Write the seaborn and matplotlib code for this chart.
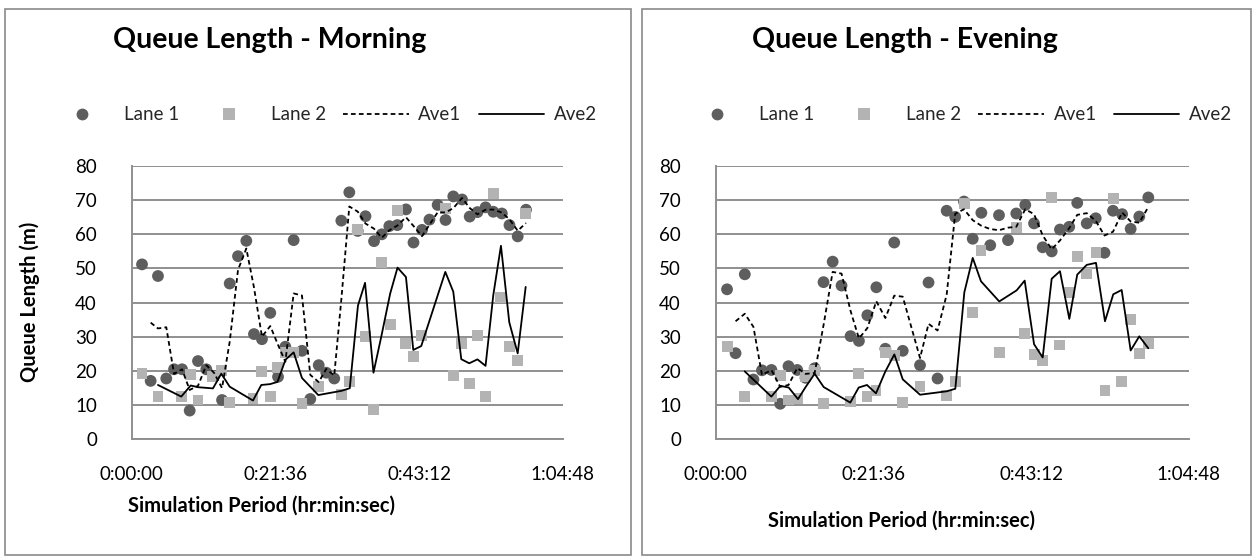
import numpy as np
import pandas as pd
import matplotlib
matplotlib.use("Agg")
import matplotlib.pyplot as plt
import seaborn as sns
from matplotlib.patches import Rectangle
from matplotlib.lines import Line2D
from matplotlib.ticker import FuncFormatter

# ---------------- data (time in seconds, queue length in m) ----------------
morning_lane1_t = [93, 171, 237, 312, 382, 454, 523, 598, 673, 742, 815, 884, 959, 1034,
                   1103, 1175, 1250, 1320, 1386, 1461, 1536, 1611, 1687, 1755, 1827, 1891,
                   1963, 2039, 2109, 2186, 2256, 2324, 2396, 2474, 2542, 2619, 2686, 2760,
                   2831, 2901, 2980, 3049, 3119, 3192, 3262, 3339, 3408, 3482, 3557]
morning_lane1_q = [51.2, 17.1, 47.8, 17.8, 20.5, 20.5, 8.4, 22.9, 20.5, 18.5, 11.5, 45.6,
                   53.6, 58.1, 30.8, 29.3, 37.0, 18.3, 27.1, 58.3, 25.9, 11.8, 21.7, 19.5,
                   17.8, 64.0, 72.3, 61.0, 65.3, 58.0, 60.0, 62.4, 62.7, 67.3, 57.6, 61.3,
                   64.3, 68.6, 64.2, 71.1, 70.2, 65.2, 66.5, 67.9, 66.6, 66.1, 62.7, 59.4, 67.2]
morning_lane2_t = [93, 237, 447, 532, 598, 733, 808, 884, 1094, 1169, 1248, 1315, 1387,
                   1461, 1536, 1683, 1894, 1967, 2041, 2105, 2181, 2253, 2332, 2398, 2474,
                   2540, 2612, 2829, 2901, 2973, 3045, 3119, 3192, 3262, 3331, 3406, 3482, 3554]
morning_lane2_q = [19.3, 12.5, 12.5, 19.0, 11.5, 18.3, 20.1, 10.7, 12.0, 19.8, 12.5, 21.1,
                   25.5, 25.4, 10.5, 15.4, 13.0, 16.9, 61.4, 30.2, 8.8, 51.8, 33.6, 66.9,
                   28.1, 24.2, 30.4, 67.6, 18.8, 28.1, 16.4, 30.4, 12.6, 71.9, 41.4, 27.1,
                   23.2, 66.0]

evening_lane1_t = [94, 164, 240, 311, 381, 459, 531, 599, 671, 739, 814, 887, 962, 1035,
                   1109, 1178, 1247, 1321, 1395, 1468, 1538, 1680, 1750, 1824, 1899, 1969,
                   2041, 2113, 2184, 2257, 2329, 2403, 2471, 2545, 2617, 2688, 2762, 2830,
                   2906, 2972, 3050, 3124, 3196, 3266, 3341, 3411, 3482, 3556]
evening_lane1_q = [43.9, 25.2, 48.3, 17.5, 20.2, 20.3, 10.4, 21.4, 20.3, 18.0, 20.8, 46.0,
                   52.0, 45.0, 30.2, 28.8, 36.3, 44.5, 26.5, 57.6, 25.9, 21.7, 45.9, 17.8,
                   66.9, 65.1, 69.6, 58.7, 66.3, 56.8, 65.6, 58.3, 66.1, 68.6, 63.2, 56.2,
                   55.0, 61.4, 62.2, 69.2, 63.2, 64.7, 54.6, 66.9, 65.9, 61.6, 65.2, 70.8]
evening_lane2_t = [94, 239, 458, 532, 601, 677, 737, 814, 888, 1107, 1176, 1244, 1318,
                   1395, 1469, 1538, 1680, 1899, 1970, 2044, 2113, 2181, 2331, 2474, 2540,
                   2617, 2688, 2762, 2830, 2907, 2972, 3050, 3126, 3200, 3268, 3337, 3411,
                   3482, 3556]
evening_lane2_q = [27.3, 12.5, 12.5, 18.8, 11.5, 12.0, 18.3, 20.1, 10.5, 11.0, 19.3, 12.5,
                   14.4, 25.3, 24.4, 10.7, 15.4, 12.7, 16.9, 69.1, 37.1, 55.4, 25.3, 61.9,
                   31.0, 24.7, 23.2, 70.8, 27.6, 42.9, 53.5, 48.6, 54.7, 14.4, 70.5, 16.9,
                   35.1, 25.2, 28.1]

x_ticks = [0, 1296, 2592, 3888]
y_ticks = [0, 10, 20, 30, 40, 50, 60, 70, 80]
titles = ["Queue Length - Morning", "Queue Length - Evening"]
legend_labels = ["Lane 1", "Lane 2", "Ave1", "Ave2"]
x_title = "Simulation Period (hr:min:sec)"
y_title = "Queue Length (m)"

# ---------------- style ----------------
sns.set_theme(style="white")
plt.rcParams['font.family'] = ['Lato', 'DejaVu Sans']

C1 = "#5e5e5e"
C2 = "#b3b3b3"
GRID = "#8f8f8f"
DASH = (0, (2.6, 1.8))

W, H = 1255, 560
fig = plt.figure(figsize=(W / 100, H / 100), dpi=100)


def rect(x0, y0, x1, y1):
    return [x0 / W, 1 - y1 / H, (x1 - x0) / W, (y1 - y0) / H]


def hms(v, pos=None):
    v = int(round(v))
    return f"{v // 3600}:{(v % 3600) // 60:02d}:{v % 60:02d}"


# panel borders
for (x0, x1) in [(5, 631), (642, 1251)]:
    fig.patches.append(Rectangle((x0 / W, 1 - 555 / H), (x1 - x0) / W, (555 - 9) / H,
                                 transform=fig.transFigure, fill=False,
                                 edgecolor="#8a8a8a", linewidth=1.2))

ax1 = fig.add_axes(rect(131.7, 166, 562.7, 439.3))
ax2 = fig.add_axes(rect(715.6, 166, 1188.7, 439.3))

# (axes, data..., title centre x, legend centre x, x-title centre x, x-title y)
panels = [
    (ax1, morning_lane1_t, morning_lane1_q, morning_lane2_t, morning_lane2_q, 270, 323, 262, 506),
    (ax2, evening_lane1_t, evening_lane1_q, evening_lane2_t, evening_lane2_q, 905, 958, 902, 521),
]

for i, (ax, t1, q1, t2, q2, tcx, lcx, xcx, xl_y) in enumerate(panels):
    d1 = pd.DataFrame({"t": t1, "q": q1})
    d2 = pd.DataFrame({"t": t2, "q": q2})
    # Excel 2-period moving-average trendlines
    d1["ave"] = d1["q"].rolling(2).mean()
    d2["ave"] = d2["q"].rolling(2).mean()

    ax.set_axisbelow(True)
    ax.yaxis.grid(True, color=GRID, linewidth=1.4)
    ax.xaxis.grid(False)

    sns.scatterplot(data=d1, x="t", y="q", ax=ax, marker="o", s=72, color=C1,
                    edgecolor="none", linewidth=0, zorder=3)
    sns.scatterplot(data=d2, x="t", y="q", ax=ax, marker="s", s=62, color=C2,
                    edgecolor="none", linewidth=0, zorder=3)
    sns.lineplot(data=d1.dropna(), x="t", y="ave", ax=ax, sort=False, estimator=None,
                 color="black", linewidth=1.3, zorder=4)
    ax.lines[-1].set_linestyle(DASH)
    sns.lineplot(data=d2.dropna(), x="t", y="ave", ax=ax, sort=False, estimator=None,
                 color="black", linewidth=1.3, zorder=4)

    ax.set_xlim(0, 3888)
    ax.set_ylim(0, 80)
    ax.set_xticks(x_ticks)
    ax.set_yticks(y_ticks)
    ax.xaxis.set_major_formatter(FuncFormatter(hms))
    ax.set_xlabel("")
    ax.set_ylabel("")
    for s in ["top", "right"]:
        ax.spines[s].set_visible(False)
    for s in ["left", "bottom"]:
        ax.spines[s].set_color(GRID)
        ax.spines[s].set_linewidth(1.4)
    ax.tick_params(axis="both", direction="out", length=6, width=1.4, color=GRID,
                   labelsize=13.5, labelcolor="black")
    ax.tick_params(axis="y", pad=19)
    ax.tick_params(axis="x", pad=13)
    if ax.get_legend() is not None:
        ax.get_legend().remove()

    fig.text(tcx / W, 1 - 40 / H, titles[i], ha="center", va="center",
             fontsize=20.5, fontweight="bold", color="black")
    fig.text(xcx / W, 1 - xl_y / H, x_title, ha="center", va="center",
             fontsize=14.5, fontweight="bold", color="black")

    handles = [
        Line2D([], [], marker="o", linestyle="none", color=C1, markersize=8.5, markeredgewidth=0),
        Line2D([], [], marker="s", linestyle="none", color=C2, markersize=8, markeredgewidth=0),
        Line2D([], [], color="black", linewidth=1.3, linestyle=DASH),
        Line2D([], [], color="black", linewidth=1.3),
    ]
    fig.legend(handles, legend_labels, loc="center", bbox_to_anchor=(lcx / W, 1 - 115 / H),
               ncol=4, frameon=False, fontsize=13.5, handlelength=3.5, handletextpad=0.5,
               columnspacing=0.9, borderaxespad=0, borderpad=0)

fig.text(30 / W, 1 - 302 / H, y_title, rotation=90, ha="center", va="center",
         fontsize=14.5, fontweight="bold", color="black")

fig.savefig("out.png", dpi=100)
